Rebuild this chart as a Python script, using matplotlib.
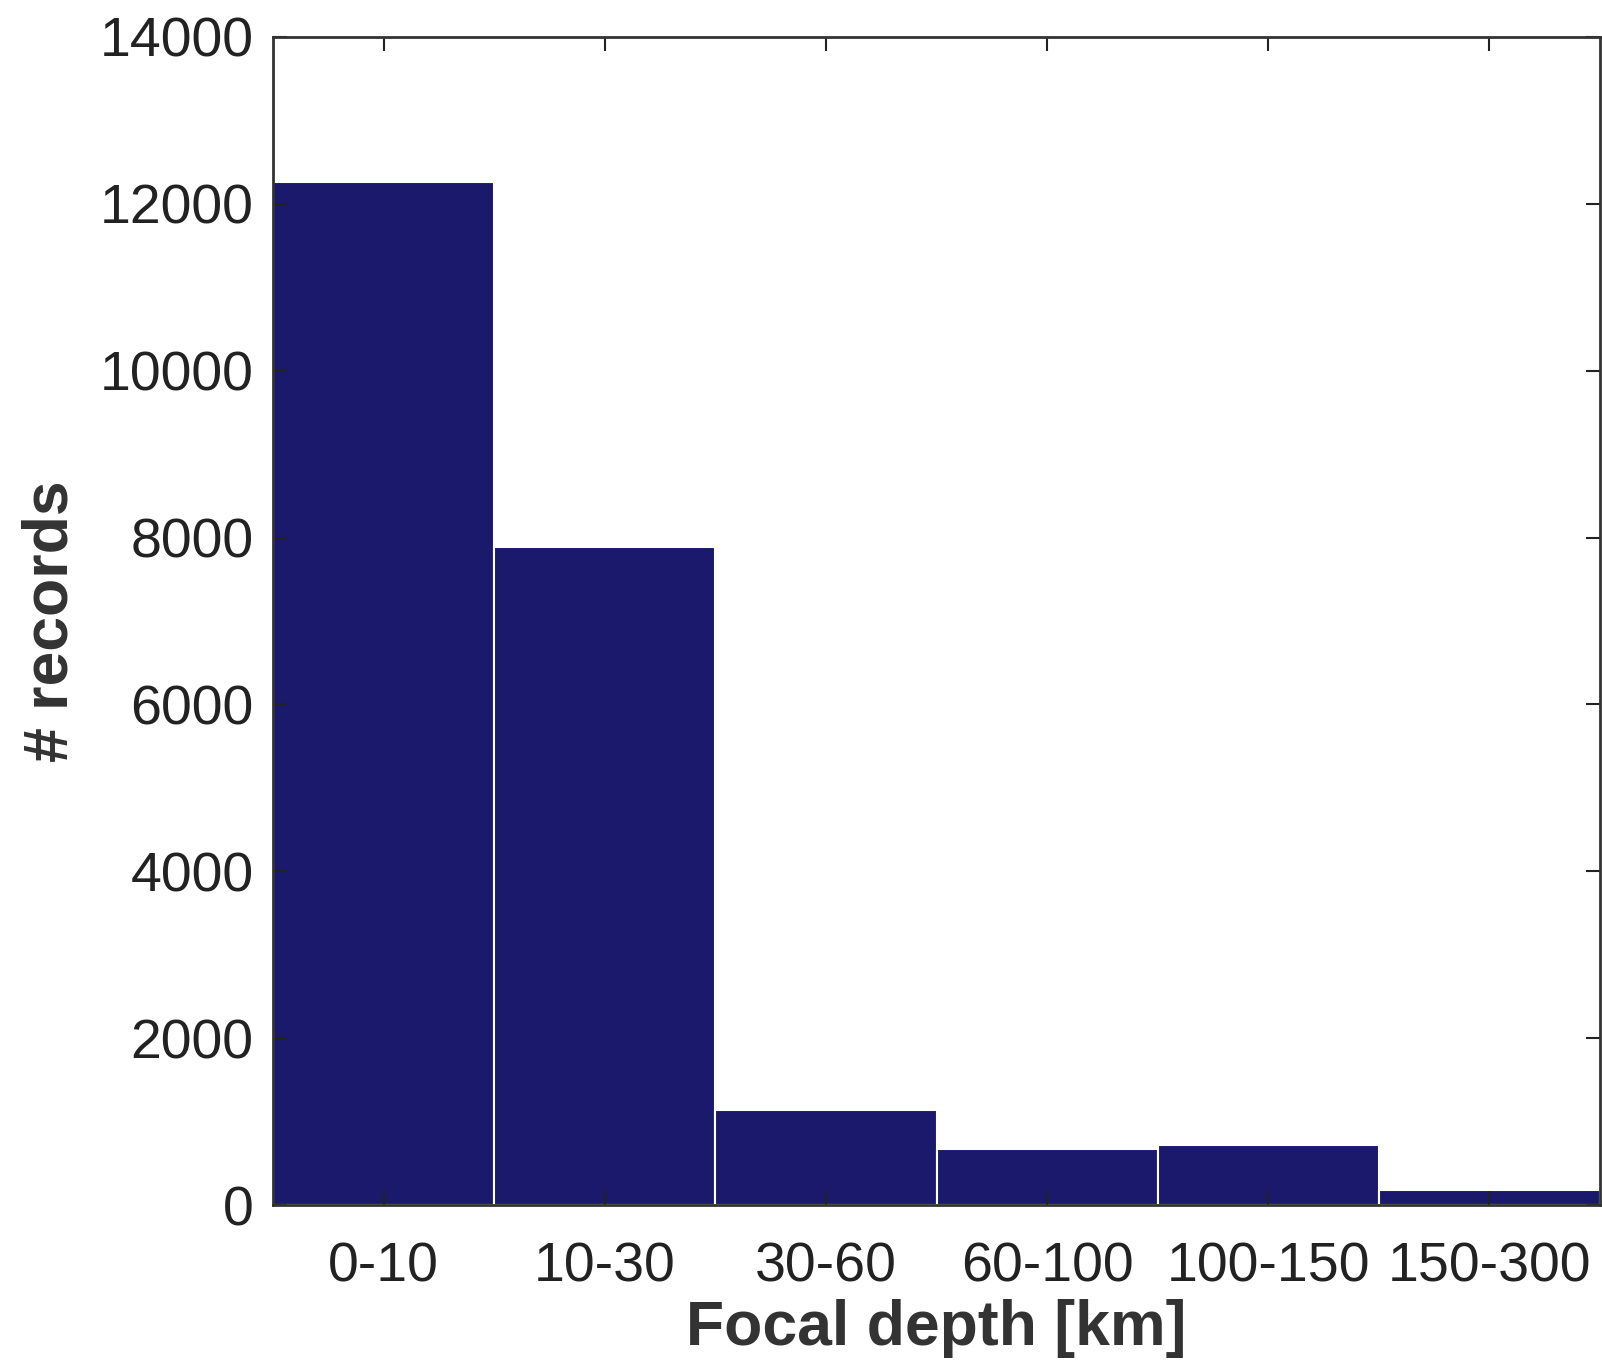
import matplotlib
matplotlib.use("Agg")
import matplotlib.pyplot as plt

depth_bins = ["0-10", "10-30", "30-60", "60-100", "100-150", "150-300"]
n_records = [12260, 7890, 1140, 670, 715, 175]

plt.rcParams["font.family"] = ["Liberation Sans", "DejaVu Sans"]

fig = plt.figure(figsize=(16.02, 13.7), dpi=100)
ax = fig.add_axes([0.1704, 0.1204, 0.8284, 0.8526])

pos = list(range(1, len(depth_bins) + 1))
ax.bar(pos, n_records, width=1.0, color="#1a196c", edgecolor="white", linewidth=1.5)

ax.set_xlim(0.5, 6.5)
ax.set_ylim(0, 14000)
ax.set_xticks(pos)
ax.set_xticklabels(depth_bins)
ax.set_yticks(range(0, 14001, 2000))

ax.tick_params(direction="in", length=10, width=1.5, labelsize=40, colors="#222222",
               top=True, right=True, pad=14)
ax.tick_params(axis="x", pad=26)
for s in ax.spines.values():
    s.set_linewidth(2)
    s.set_color("#333333")
    s.set_zorder(5)

ax.set_xlabel("Focal depth [km]", fontsize=45, fontweight="bold", color="#333333", labelpad=4)
ax.set_ylabel("# records", fontsize=45, fontweight="bold", color="#333333", labelpad=14)

fig.savefig("out.png", dpi=100)
